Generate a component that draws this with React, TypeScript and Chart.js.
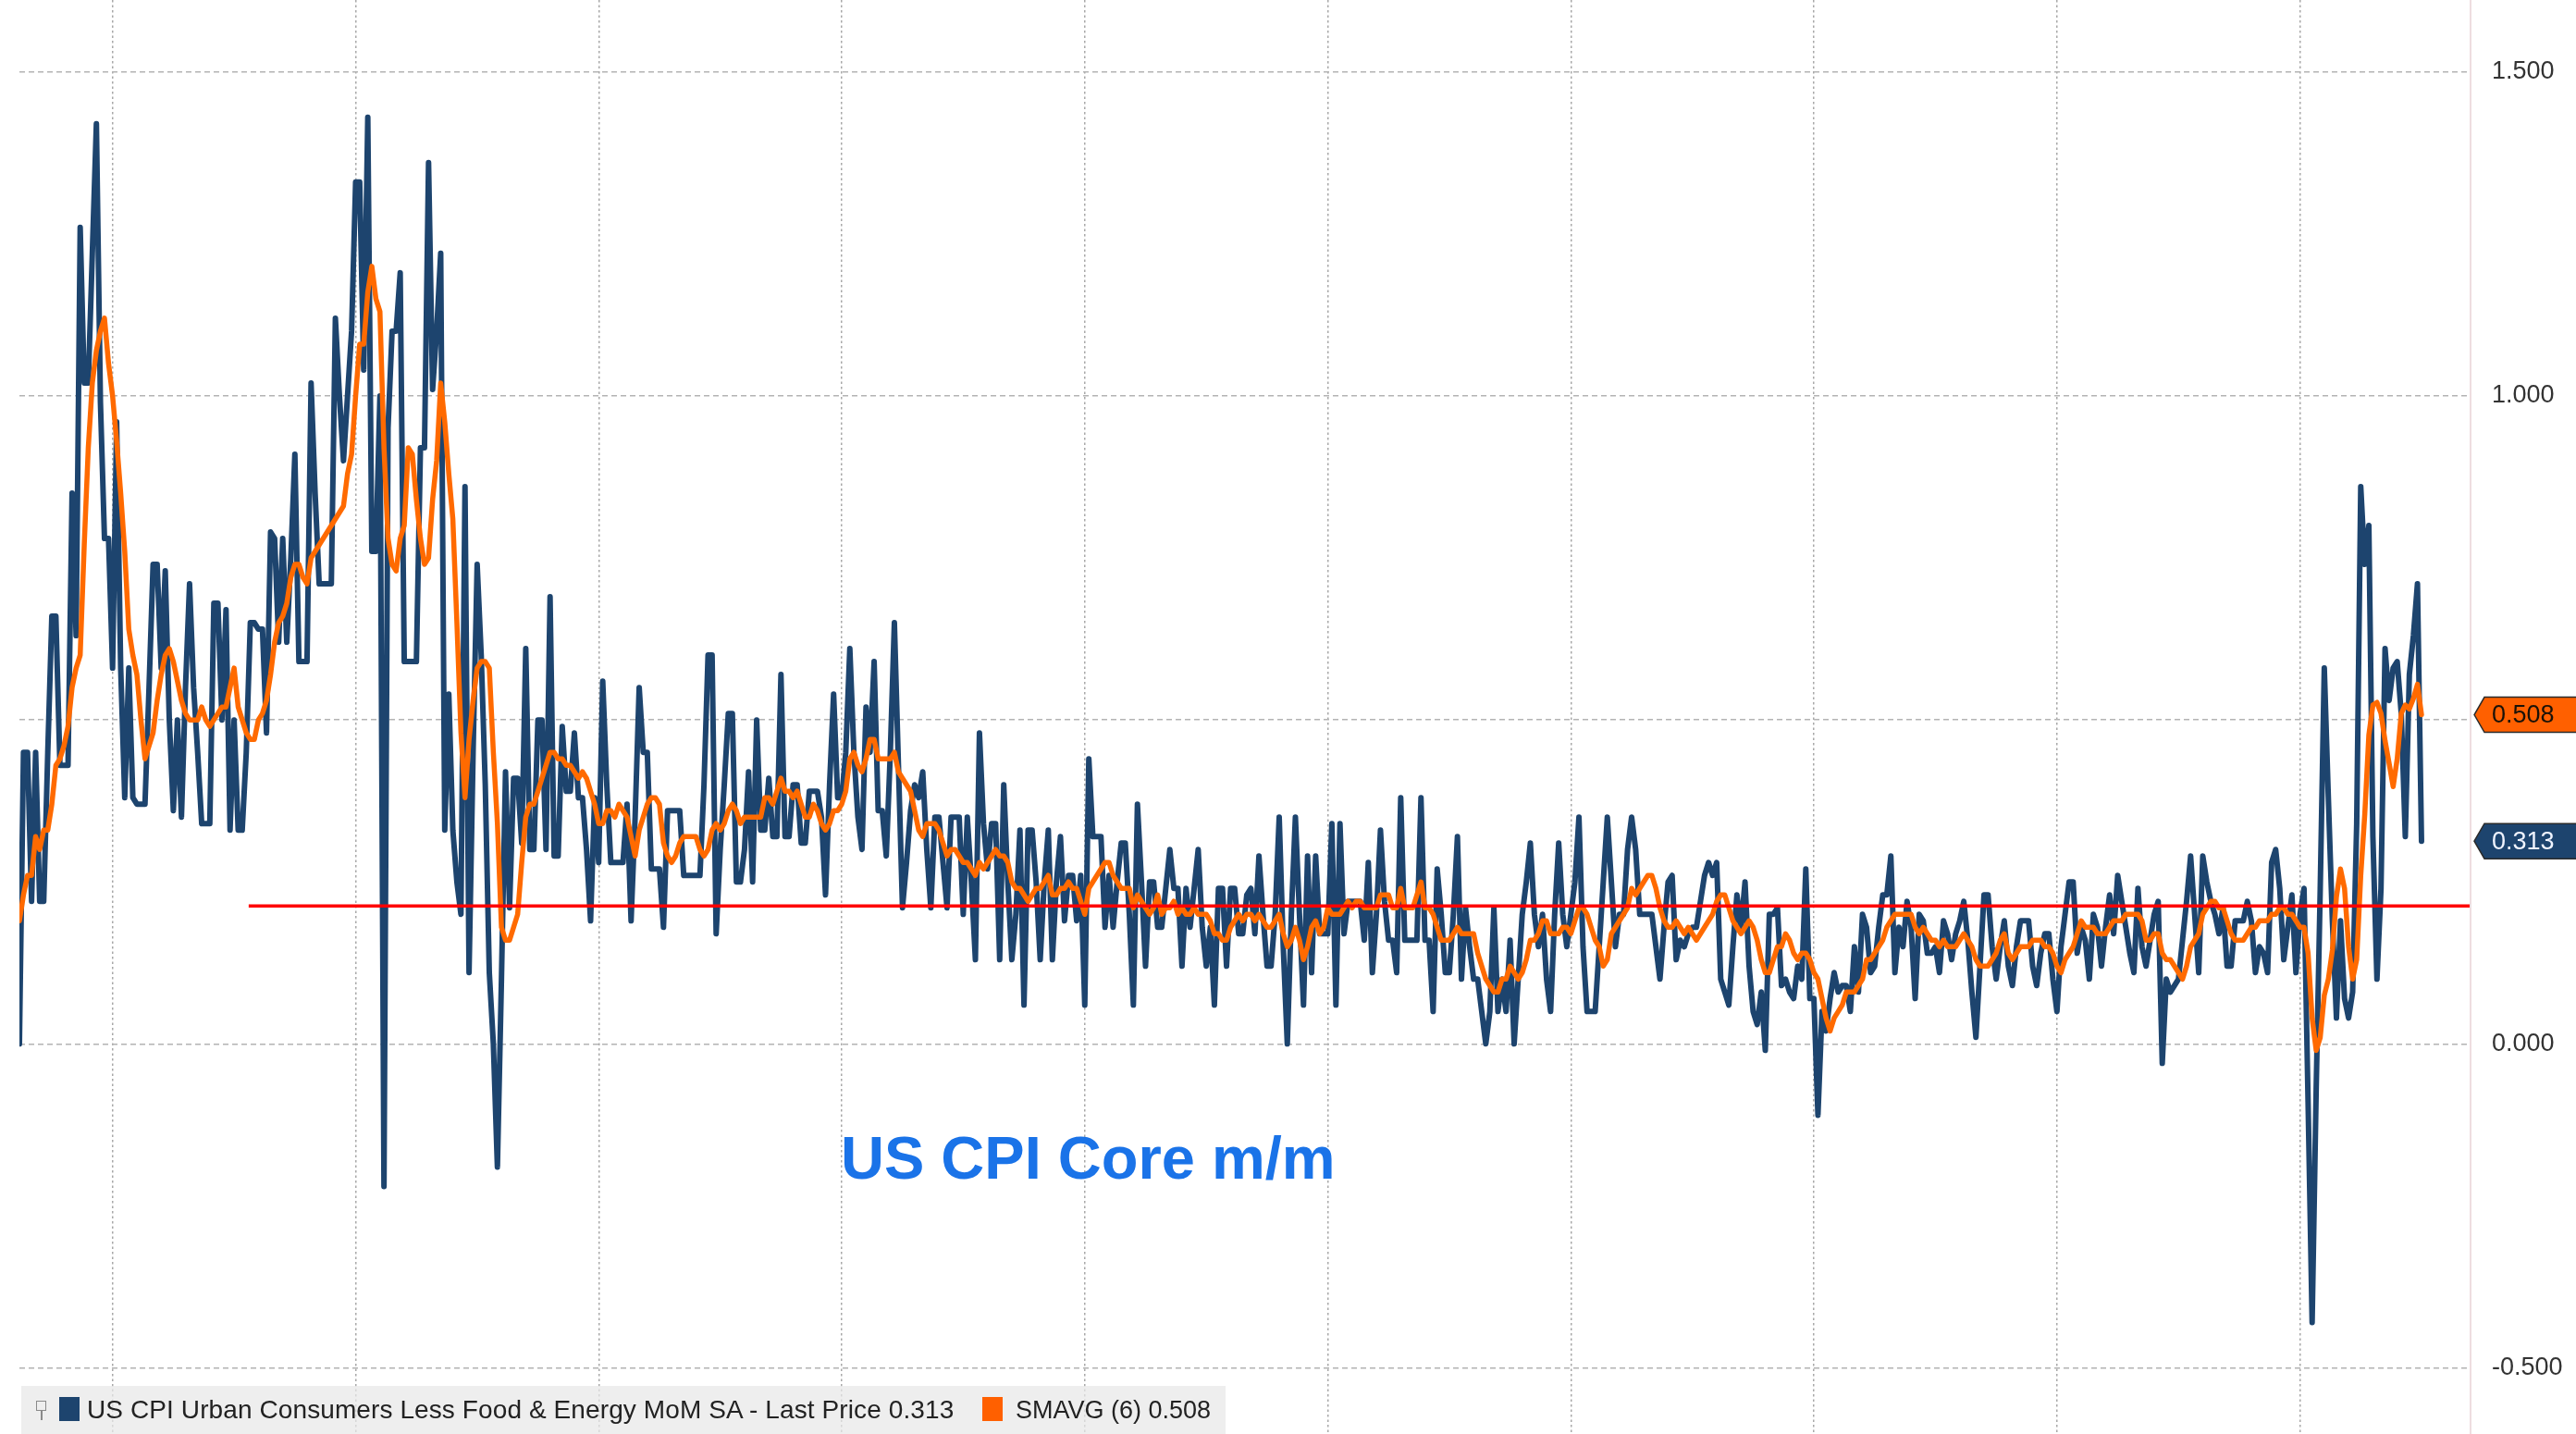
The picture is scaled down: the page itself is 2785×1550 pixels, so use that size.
import React, { useEffect, useRef } from 'react';
import { Chart, registerables } from 'chart.js';

Chart.register(...registerables);

// ---- Data: US CPI Urban Consumers Less Food & Energy MoM SA (monthly, from Feb 1973) ----
const FIRST_YEAR = 1973;
const FIRST_MONTH = 2; // February

const CORE_1970S = [
  0.00, 0.45, 0.45, 0.22, 0.45, 0.22, 0.22, 0.45, 0.66, 0.66, 0.43,
  0.43, 0.43, 0.85, 0.63, 1.26, 1.02, 1.02, 1.22, 1.42, 0.99, 0.78, 0.78,
  0.58, 0.96, 0.58, 0.38, 0.58, 0.38, 0.37, 0.37, 0.37, 0.55, 0.74, 0.74,
  0.58, 0.73, 0.50, 0.36, 0.50, 0.35, 0.55, 0.71, 0.55, 0.45, 0.34, 0.34,
  0.34, 0.68, 0.68, 0.50, 0.67, 0.33, 0.50, 0.33, 0.33, 0.45, 0.65, 0.65,
  0.64, 0.64, 0.48, 0.79, 0.78, 0.62, 0.78, 0.62, 0.75, 0.91, 0.59, 0.59,
  0.59, 1.02, 0.85, 0.71, 0.71, 0.71, 0.71, 1.12, 1.00, 0.90, 1.00, 1.10,
];
const CORE_1980S = [
  1.33, 1.33, 1.04, 1.43, 0.76, 0.76, 1.00, -0.22, 0.95, 1.10, 1.10, 1.19,
  0.59, 0.59, 0.59, 0.59, 0.92, 0.92, 1.36, 1.01, 1.10, 1.22, 0.33, 0.54,
  0.33, 0.25, 0.20, 0.86, 0.11, 0.45, 0.74, 0.60, 0.40, 0.11, 0.00, -0.19,
  0.10, 0.42, 0.21, 0.41, 0.41, 0.31, 0.61, 0.30, 0.30, 0.50, 0.50, 0.30,
  0.69, 0.29, 0.29, 0.49, 0.39, 0.39, 0.48, 0.38, 0.38, 0.30, 0.19, 0.38,
  0.28, 0.56, 0.40, 0.28, 0.28, 0.28, 0.28, 0.37, 0.19, 0.35, 0.55, 0.45,
  0.45, 0.27, 0.27, 0.27, 0.18, 0.36, 0.36, 0.36, 0.36, 0.26, 0.26, 0.26,
  0.26, 0.26, 0.40, 0.60, 0.60, 0.17, 0.30, 0.40, 0.51, 0.51, 0.25, 0.25,
  0.30, 0.42, 0.25, 0.50, 0.33, 0.33, 0.41, 0.32, 0.32, 0.57, 0.32, 0.32,
  0.40, 0.40, 0.31, 0.31, 0.39, 0.39, 0.39, 0.35, 0.23, 0.40, 0.54, 0.38,
];
const CORE_1990S = [
  0.38, 0.45, 0.61, 0.45, 0.35, 0.30, 0.52, 0.45, 0.59, 0.36, 0.36, 0.29,
  0.45, 0.65, 0.43, 0.21, 0.28, 0.36, 0.40, 0.38, 0.42, 0.30, 0.21, 0.35,
  0.35, 0.28, 0.21, 0.35, 0.35, 0.35, 0.20, 0.35, 0.25, 0.13, 0.48, 0.34,
  0.27, 0.34, 0.34, 0.13, 0.40, 0.25, 0.13, 0.20, 0.33, 0.06, 0.33, 0.33,
  0.25, 0.13, 0.25, 0.33, 0.13, 0.25, 0.32, 0.19, 0.26, 0.26, 0.19, 0.26,
  0.06, 0.44, 0.32, 0.32, 0.32, 0.18, 0.26, 0.18, 0.25, 0.31, 0.31, 0.20,
  0.06, 0.37, 0.25, 0.12, 0.25, 0.25, 0.18, 0.18, 0.24, 0.30, 0.24, 0.24,
  0.12, 0.24, 0.18, 0.24, 0.30, 0.18, 0.12, 0.18, 0.06, 0.24, 0.24, 0.12,
  0.24, 0.24, 0.17, 0.17, 0.23, 0.24, 0.17, 0.29, 0.20, 0.12, 0.12, 0.20,
  0.35, 0.15, 0.00, 0.20, 0.35, 0.20, 0.06, 0.29, 0.11, 0.29, 0.17, 0.17,
];
const CORE_2000S = [
  0.17, 0.34, 0.06, 0.34, 0.17, 0.22, 0.22, 0.22, 0.22, 0.16, 0.28, 0.11,
  0.20, 0.33, 0.22, 0.16, 0.16, 0.11, 0.38, 0.16, 0.16, 0.16, 0.16, 0.38,
  0.16, 0.16, 0.05, 0.27, 0.20, 0.11, 0.11, 0.20, 0.32, 0.10, 0.21, 0.15,
  0.10, 0.10, 0.05, 0.00, 0.05, 0.21, 0.05, 0.10, 0.05, 0.16, 0.00, 0.10,
  0.20, 0.25, 0.31, 0.20, 0.15, 0.20, 0.10, 0.05, 0.20, 0.31, 0.20, 0.15,
  0.20, 0.25, 0.35, 0.15, 0.05, 0.05, 0.05, 0.15, 0.25, 0.35, 0.25, 0.15,
  0.20, 0.20, 0.30, 0.35, 0.30, 0.20, 0.20, 0.20, 0.20, 0.15, 0.10, 0.18,
  0.25, 0.26, 0.13, 0.16, 0.15, 0.17, 0.18, 0.18, 0.22, 0.26, 0.28, 0.26,
  0.28, 0.10, 0.08, 0.06, 0.15, 0.23, 0.18, 0.25, 0.12, 0.05, 0.03, 0.08,
  -0.01, 0.20, 0.20, 0.21, 0.09, 0.10, 0.08, 0.07, 0.12, 0.10, 0.27, 0.07,
];
const CORE_2010S = [
  0.07, -0.11, 0.05, 0.02, 0.07, 0.11, 0.08, 0.09, 0.09, 0.05, 0.15, 0.08,
  0.20, 0.18, 0.11, 0.12, 0.18, 0.23, 0.23, 0.29, 0.11, 0.18, 0.15, 0.22,
  0.18, 0.07, 0.20, 0.19, 0.14, 0.14, 0.15, 0.11, 0.19, 0.17, 0.13, 0.17,
  0.19, 0.22, 0.16, 0.08, 0.01, 0.12, 0.23, 0.23, 0.15, 0.10, 0.15, 0.19,
  0.12, 0.09, 0.15, 0.19, 0.19, 0.19, 0.12, 0.09, 0.14, 0.17, 0.17, 0.10,
  0.05, 0.15, 0.20, 0.25, 0.25, 0.14, 0.18, 0.16, 0.10, 0.20, 0.18, 0.12,
  0.18, 0.23, 0.17, 0.26, 0.22, 0.18, 0.14, 0.11, 0.24, 0.15, 0.12, 0.16,
  0.20, 0.22, -0.03, 0.10, 0.08, 0.09, 0.10, 0.16, 0.22, 0.29, 0.20, 0.11,
  0.29, 0.25, 0.22, 0.20, 0.17, 0.21, 0.12, 0.12, 0.19, 0.19, 0.19, 0.22,
  0.19, 0.11, 0.15, 0.14, 0.11, 0.28, 0.30, 0.24, 0.13, 0.18, 0.23, 0.11,
];
const CORE_2020S = [
  0.20, 0.24, -0.09, -0.43, -0.07, 0.24, 0.58, 0.38, 0.19, 0.04, 0.19, 0.07,
  0.04, 0.08, 0.34, 0.86, 0.74, 0.80, 0.32, 0.10, 0.24, 0.61, 0.53, 0.58,
  0.59, 0.51, 0.32, 0.57, 0.63, 0.71, 0.313,
];

// ---- SMAVG (6) as shown ----
const SMA_1970S = [
  0.19, 0.23, 0.26, 0.26, 0.32, 0.30, 0.33, 0.33, 0.37, 0.43, 0.44,
  0.46, 0.49, 0.55, 0.58, 0.60, 0.77, 0.92, 1.02, 1.07, 1.10, 1.12, 1.05,
  1.00, 0.93, 0.85, 0.76, 0.64, 0.60, 0.57, 0.50, 0.44, 0.46, 0.48, 0.53,
  0.57, 0.60, 0.61, 0.59, 0.56, 0.53, 0.51, 0.50, 0.50, 0.50, 0.52, 0.50,
  0.49, 0.50, 0.51, 0.52, 0.52, 0.55, 0.58, 0.52, 0.50, 0.48, 0.47, 0.47,
  0.50, 0.51, 0.53, 0.57, 0.62, 0.65, 0.66, 0.68, 0.72, 0.74, 0.74, 0.72,
  0.71, 0.75, 0.76, 0.77, 0.78, 0.79, 0.80, 0.81, 0.82, 0.83, 0.88, 0.91,
];
const SMA_1980S = [
  1.00, 1.08, 1.08, 1.16, 1.20, 1.15, 1.13, 0.92, 0.78, 0.74, 0.73, 0.78,
  0.80, 0.92, 0.91, 0.84, 0.78, 0.74, 0.75, 0.84, 0.90, 1.02, 0.96, 0.88,
  0.81, 0.65, 0.48, 0.38, 0.47, 0.53, 0.58, 0.59, 0.59, 0.58, 0.45, 0.34,
  0.18, 0.16, 0.16, 0.18, 0.20, 0.28, 0.35, 0.37, 0.37, 0.39, 0.41, 0.43,
  0.45, 0.45, 0.44, 0.44, 0.43, 0.43, 0.42, 0.41, 0.42, 0.41, 0.39, 0.37,
  0.34, 0.34, 0.36, 0.36, 0.35, 0.37, 0.36, 0.35, 0.32, 0.29, 0.33, 0.35,
  0.37, 0.38, 0.38, 0.37, 0.31, 0.29, 0.28, 0.29, 0.31, 0.32, 0.32, 0.32,
  0.32, 0.30, 0.29, 0.30, 0.33, 0.34, 0.33, 0.34, 0.36, 0.37, 0.36, 0.34,
  0.35, 0.35, 0.35, 0.35, 0.35, 0.38, 0.38, 0.37, 0.39, 0.41, 0.39, 0.39,
  0.38, 0.39, 0.37, 0.35, 0.35, 0.37, 0.36, 0.34, 0.33, 0.34, 0.36, 0.36,
];
const SMA_1990S = [
  0.37, 0.39, 0.44, 0.45, 0.43, 0.42, 0.44, 0.47, 0.47, 0.44, 0.44, 0.44,
  0.44, 0.45, 0.42, 0.41, 0.40, 0.39, 0.36, 0.33, 0.32, 0.34, 0.34, 0.34,
  0.33, 0.31, 0.29, 0.30, 0.30, 0.29, 0.28, 0.28, 0.27, 0.26, 0.28, 0.27,
  0.28, 0.29, 0.30, 0.29, 0.29, 0.28, 0.25, 0.24, 0.24, 0.23, 0.22, 0.23,
  0.24, 0.24, 0.25, 0.26, 0.23, 0.23, 0.24, 0.24, 0.25, 0.24, 0.24, 0.22,
  0.20, 0.24, 0.25, 0.26, 0.27, 0.28, 0.28, 0.26, 0.25, 0.24, 0.24, 0.24,
  0.21, 0.23, 0.22, 0.21, 0.20, 0.21, 0.23, 0.20, 0.21, 0.21, 0.22, 0.20,
  0.21, 0.20, 0.20, 0.21, 0.20, 0.20, 0.20, 0.19, 0.17, 0.17, 0.16, 0.16,
  0.18, 0.19, 0.20, 0.19, 0.20, 0.20, 0.19, 0.20, 0.19, 0.18, 0.18, 0.19,
  0.20, 0.17, 0.15, 0.16, 0.18, 0.16, 0.13, 0.15, 0.18, 0.19, 0.17, 0.18,
];
const SMA_2000S = [
  0.21, 0.20, 0.20, 0.20, 0.21, 0.22, 0.21, 0.22, 0.22, 0.21, 0.21, 0.21,
  0.21, 0.23, 0.23, 0.23, 0.21, 0.21, 0.24, 0.21, 0.21, 0.21, 0.23, 0.25,
  0.21, 0.21, 0.20, 0.18, 0.16, 0.16, 0.16, 0.17, 0.18, 0.17, 0.17, 0.17,
  0.17, 0.14, 0.12, 0.10, 0.09, 0.08, 0.08, 0.10, 0.10, 0.12, 0.11, 0.10,
  0.11, 0.13, 0.16, 0.16, 0.17, 0.19, 0.19, 0.17, 0.17, 0.17, 0.18, 0.18,
  0.17, 0.19, 0.21, 0.21, 0.20, 0.18, 0.16, 0.15, 0.12, 0.13, 0.17, 0.18,
  0.19, 0.20, 0.21, 0.24, 0.23, 0.24, 0.25, 0.26, 0.26, 0.24, 0.21, 0.19,
  0.18, 0.18, 0.19, 0.18, 0.17, 0.18, 0.17, 0.16, 0.17, 0.18, 0.19, 0.20,
  0.22, 0.23, 0.23, 0.21, 0.19, 0.18, 0.17, 0.18, 0.19, 0.18, 0.16, 0.13,
  0.11, 0.11, 0.13, 0.15, 0.15, 0.17, 0.16, 0.14, 0.13, 0.14, 0.14, 0.13,
];
const SMA_2010S = [
  0.11, 0.10, 0.07, 0.04, 0.02, 0.04, 0.05, 0.06, 0.08, 0.08, 0.08, 0.09,
  0.10, 0.13, 0.13, 0.14, 0.15, 0.16, 0.18, 0.19, 0.20, 0.20, 0.20, 0.20,
  0.20, 0.18, 0.17, 0.18, 0.17, 0.16, 0.16, 0.15, 0.16, 0.15, 0.15, 0.15,
  0.16, 0.17, 0.16, 0.15, 0.13, 0.12, 0.12, 0.12, 0.13, 0.14, 0.16, 0.17,
  0.14, 0.13, 0.14, 0.15, 0.15, 0.15, 0.16, 0.16, 0.16, 0.15, 0.15, 0.14,
  0.12, 0.11, 0.13, 0.14, 0.15, 0.17, 0.19, 0.18, 0.18, 0.18, 0.17, 0.17,
  0.17, 0.18, 0.19, 0.19, 0.19, 0.20, 0.20, 0.20, 0.20, 0.19, 0.16, 0.16,
  0.17, 0.17, 0.14, 0.13, 0.13, 0.12, 0.11, 0.10, 0.12, 0.15, 0.16, 0.17,
  0.20, 0.21, 0.22, 0.22, 0.21, 0.21, 0.19, 0.17, 0.16, 0.16, 0.16, 0.17,
  0.18, 0.18, 0.19, 0.19, 0.19, 0.20, 0.20, 0.21, 0.21, 0.20, 0.20, 0.19,
];
const SMA_2020S = [
  0.18, 0.18, 0.14, 0.04, -0.01, 0.01, 0.075, 0.10, 0.145, 0.227, 0.27, 0.24,
  0.15, 0.10, 0.13, 0.26, 0.355, 0.477, 0.523, 0.527, 0.51, 0.468, 0.433, 0.397,
  0.44, 0.51, 0.523, 0.517, 0.533, 0.555, 0.508,
];

const CORE_MOM = [...CORE_1970S, ...CORE_1980S, ...CORE_1990S, ...CORE_2000S, ...CORE_2010S, ...CORE_2020S];
const SMAVG_6 = [...SMA_1970S, ...SMA_1980S, ...SMA_1990S, ...SMA_2000S, ...SMA_2010S, ...SMA_2020S];

const X_GRID_YEARS = [1975, 1980, 1985, 1990, 1995, 2000, 2005, 2010, 2015, 2020];
const Y_TICKS = [-0.5, 0, 0.5, 1.0, 1.5];
const Y_MIN = -0.602;
const Y_MAX = 1.611;
const X_MAX = 2023.49;
const AVG_LEVEL = 0.213;
const AVG_FROM = 1977.8;

const LEGEND_MAIN = 'US CPI Urban Consumers Less Food & Energy MoM SA - Last Price';
const LEGEND_SMA = 'SMAVG (6)';
const TITLE = 'US CPI Core m/m';

const BLUE = '#1d446e';
const ORANGE = '#ff6a00';

const monthX = (i: number) => FIRST_YEAR + (FIRST_MONTH - 1 + i) / 12;
const LAST_PRICE = CORE_MOM[CORE_MOM.length - 1];
const LAST_SMA = SMAVG_6[SMAVG_6.length - 1];

const tagPlugin = {
  id: 'lastValueTags',
  afterDraw(chart: any) {
    const { ctx, chartArea } = chart;
    const y = chart.scales.y;
    ctx.save();
    ctx.strokeStyle = 'rgba(230,205,210,0.9)';
    ctx.lineWidth = 1.5;
    ctx.setLineDash([]);
    ctx.beginPath();
    ctx.moveTo(chartArea.right + 1, 0);
    ctx.lineTo(chartArea.right + 1, chart.height);
    ctx.stroke();
    const tags = [
      { v: LAST_SMA, fill: '#ff6000', color: '#1a1208' },
      { v: LAST_PRICE, fill: BLUE, color: '#f0f4ff' },
    ];
    for (const t of tags) {
      const yy = y.getPixelForValue(t.v);
      const x0 = chartArea.right + 5;
      const h = 38;
      const a = 11;
      ctx.beginPath();
      ctx.moveTo(x0, yy);
      ctx.lineTo(x0 + a, yy - h / 2);
      ctx.lineTo(chart.width + 2, yy - h / 2);
      ctx.lineTo(chart.width + 2, yy + h / 2);
      ctx.lineTo(x0 + a, yy + h / 2);
      ctx.closePath();
      ctx.fillStyle = t.fill;
      ctx.fill();
      ctx.strokeStyle = '#2a2a2a';
      ctx.lineWidth = 1.5;
      ctx.stroke();
      ctx.fillStyle = t.color;
      ctx.font = '27px "Liberation Sans", Arial, sans-serif';
      ctx.textBaseline = 'middle';
      ctx.textAlign = 'left';
      ctx.fillText(t.v.toFixed(3), chartArea.right + 24, yy + 1);
    }
    ctx.restore();
  },
};

export default function App() {
  const canvasRef = useRef<HTMLCanvasElement | null>(null);

  useEffect(() => {
    document.body.style.margin = '0';
    const canvas = canvasRef.current;
    if (!canvas) return;
    const chart = new Chart(canvas, {
      type: 'line',
      data: {
        datasets: [
          {
            label: 'Average',
            data: [
              { x: AVG_FROM, y: AVG_LEVEL },
              { x: X_MAX, y: AVG_LEVEL },
            ],
            borderColor: '#ff0000',
            borderWidth: 3.5,
            pointRadius: 0,
            order: 0,
          },
          {
            label: LEGEND_SMA,
            data: SMAVG_6.map((v, i) => ({ x: monthX(i), y: v })),
            borderColor: ORANGE,
            borderWidth: 5.5,
            pointRadius: 0,
            borderJoinStyle: 'round',
            borderCapStyle: 'round',
            order: 1,
          },
          {
            label: LEGEND_MAIN,
            data: CORE_MOM.map((v, i) => ({ x: monthX(i), y: v })),
            borderColor: BLUE,
            borderWidth: 6,
            pointRadius: 0,
            borderJoinStyle: 'round',
            borderCapStyle: 'round',
            order: 2,
          },
        ],
      },
      options: {
        animation: false,
        responsive: false,
        devicePixelRatio: 1,
        events: [],
        layout: { padding: { left: 21, right: 0, top: 0, bottom: 0 } },
        plugins: { legend: { display: false }, tooltip: { enabled: false } },
        elements: { line: { tension: 0 } },
        scales: {
          x: {
            type: 'linear',
            min: monthX(0),
            max: X_MAX,
            afterBuildTicks: (s: any) => {
              s.ticks = X_GRID_YEARS.map((v) => ({ value: v }));
            },
            afterFit: (s: any) => {
              s.height = 0;
            },
            grid: { color: '#a8a8a8', lineWidth: 1.5, drawTicks: false },
            border: { display: false, dash: [2.5, 3] },
            ticks: { display: false },
          },
          y: {
            position: 'right',
            min: Y_MIN,
            max: Y_MAX,
            afterBuildTicks: (s: any) => {
              s.ticks = Y_TICKS.map((v) => ({ value: v }));
            },
            afterFit: (s: any) => {
              s.width = 115;
              s.paddingTop = 0;
              s.paddingBottom = 0;
            },
            grid: { color: '#b3b3b3', lineWidth: 1.5, drawTicks: false },
            border: { display: false, dash: [6, 4] },
            ticks: {
              padding: 24,
              color: '#333333',
              font: { family: '"Liberation Sans", Arial, sans-serif', size: 27 },
              callback: (v: any) => Number(v).toFixed(3),
            },
          },
        },
      },
      plugins: [tagPlugin],
    } as any);
    return () => chart.destroy();
  }, []);

  const sq = (color: string) => ({
    position: 'absolute' as const,
    width: 22,
    height: 26,
    background: color,
    top: 12,
  });

  return (
    <div style={{ position: 'fixed', left: 0, top: 0, width: 2785, height: 1550, background: '#ffffff', overflow: 'hidden' }}>
      <canvas ref={canvasRef} width={2785} height={1550} style={{ display: 'block', width: 2785, height: 1550 }} />
      <div
        style={{
          position: 'absolute',
          left: 909,
          top: 1219,
          font: 'bold 65px "Liberation Sans", Arial, sans-serif',
          lineHeight: '66px',
          color: '#1a73e8',
          whiteSpace: 'nowrap',
        }}
      >
        {TITLE}
      </div>
      <div
        style={{
          position: 'absolute',
          left: 23,
          top: 1498,
          width: 1302,
          height: 52,
          background: 'rgba(232,232,232,0.72)',
          font: '27px "Liberation Sans", Arial, sans-serif',
          color: '#222222',
          whiteSpace: 'nowrap',
        }}
      >
        <div style={{ position: 'absolute', left: 16, top: 16, width: 9, height: 9, border: '1.5px solid #8a8a8a' }} />
        <div style={{ position: 'absolute', left: 21, top: 27, width: 1.5, height: 10, background: '#8a8a8a' }} />
        <div style={{ ...sq(BLUE), left: 41 }} />
        <div style={{ position: 'absolute', left: 71, top: 12, lineHeight: '28px', fontSize: 28, letterSpacing: '0.1px' }}>
          {LEGEND_MAIN} {LAST_PRICE.toFixed(3)}
        </div>
        <div style={{ ...sq('#ff6000'), left: 1039 }} />
        <div style={{ position: 'absolute', left: 1075, top: 12, lineHeight: '28px' }}>
          {LEGEND_SMA} {LAST_SMA.toFixed(3)}
        </div>
      </div>
    </div>
  );
}
